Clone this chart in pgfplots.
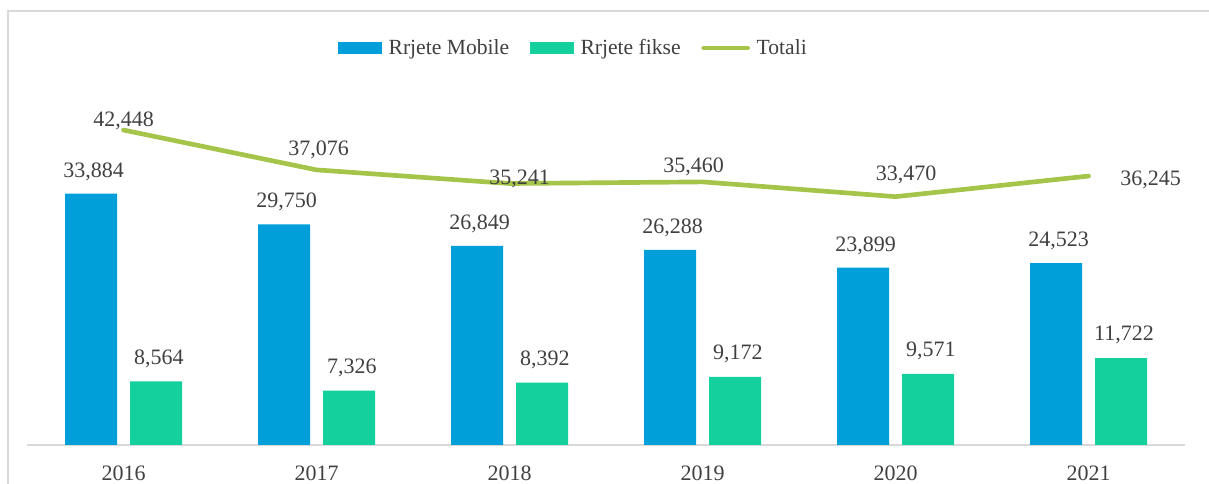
\documentclass[border=0pt]{standalone}
\usepackage{pgfplots}
\pgfplotsset{compat=1.18}
\usepackage{fontspec}
\setmainfont{Liberation Serif}
\definecolor{mob}{RGB}{0,159,218}
\definecolor{fix}{RGB}{19,208,157}
\definecolor{tot}{RGB}{165,197,74}
\definecolor{txt}{RGB}{64,64,64}
\definecolor{frm}{RGB}{217,217,217}
\newcommand{\numfont}{\fontsize{16.5}{18}\selectfont}
\begin{document}
\begin{tikzpicture}
\begin{axis}[
  at={(20.25pt,29.25pt)}, anchor=south west,
  scale only axis, width=868.5pt, height=278.25pt,
  xmin=-0.5, xmax=5.5, ymin=0, ymax=50000,
  axis y line=none, axis x line*=bottom,
  x axis line style={draw=frm, line width=1.2pt, -},
  xtick={0,1,2,3,4,5}, xticklabels={2016,2017,2018,2019,2020,2021},
  major tick length=0pt,
  xticklabel style={anchor=base, yshift=-26.8pt, font=\numfont, text=txt},
  /pgf/number format/assume math mode=true,
  /pgf/number format/.cd, fixed, precision=0, 1000 sep={,},
  /pgfplots/.cd,
  clip=false,
  legend columns=3,
  legend style={draw=none, fill=none, at={(axis description cs:0.4724,1.070)}, anchor=center,
    font=\fontsize{16.2}{18}\selectfont, text=txt,
    nodes={inner xsep=2.5pt},
    /tikz/every odd column/.append style={column sep=2.5pt},
    /tikz/every even column/.append style={column sep=13pt}},
]
\addplot[ybar, bar width=39pt, bar shift=-24.375pt, fill=mob, draw=none,
  nodes near coords, nodes near coords style={anchor=base, yshift=12.3pt, xshift=-22.4pt, font=\numfont, text=txt},
  legend image code/.code={\fill[mob] (0pt,-4.7pt) rectangle (33pt,4.7pt);}]
  coordinates {(0,33884) (1,29750) (2,26849) (3,26288) (4,23899) (5,24523)};
\addlegendentry{Rrjete Mobile}
\addplot[ybar, bar width=39pt, bar shift=24.375pt, fill=fix, draw=none,
  nodes near coords, nodes near coords style={anchor=base, yshift=12.8pt, xshift=26.6pt, font=\numfont, text=txt},
  legend image code/.code={\fill[fix] (0pt,-4.7pt) rectangle (33pt,4.7pt);}]
  coordinates {(0,8564) (1,7326) (2,8392) (3,9172) (4,9571) (5,11722)};
\addlegendentry{Rrjete fikse}
\addplot[sharp plot, tot, line width=3.5pt, line cap=round, line join=round, mark=none,
  legend image code/.code={\draw[tot, line width=3.5pt, line cap=round] (2pt,0pt) -- (35pt,0pt);}]
  coordinates {(0,42448) (1,37076) (2,35241) (3,35460) (4,33470) (5,36245)};
\addlegendentry{Totali}
\node[anchor=base, font=\numfont, text=txt, xshift=0pt, yshift=2.8pt] at (axis cs:0,42448) {42,448};
\node[anchor=base, font=\numfont, text=txt, xshift=1.5pt, yshift=11pt] at (axis cs:1,37076) {37,076};
\node[anchor=base, font=\numfont, text=txt, xshift=7.5pt, yshift=-0.75pt] at (axis cs:2,35241) {35,241};
\node[anchor=base, font=\numfont, text=txt, xshift=-6.75pt, yshift=6.75pt] at (axis cs:3,35460) {35,460};
\node[anchor=base, font=\numfont, text=txt, xshift=7.9pt, yshift=12.3pt] at (axis cs:4,33470) {33,470};
\node[anchor=base, font=\numfont, text=txt, xshift=46.5pt, yshift=-6.9pt] at (axis cs:5,36245) {36,245};
\end{axis}
\draw[frm, line width=1pt] (6pt,0pt) -- (6pt,354.75pt) -- (906.75pt,354.75pt);
\pgfresetboundingbox
\path[use as bounding box] (0pt,0pt) rectangle (906.75pt,363pt);
\end{tikzpicture}
\end{document}
